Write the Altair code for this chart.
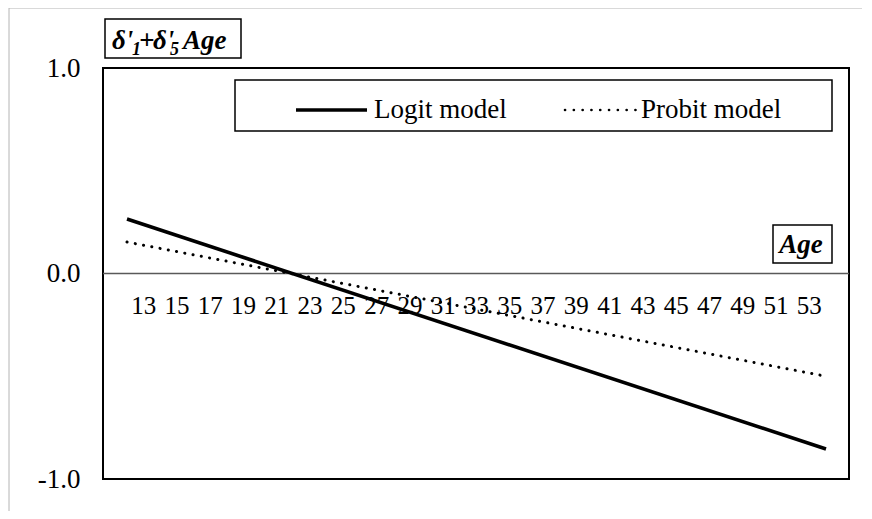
import altair as alt
import pandas as pd

# Data
ages = [12, 54]
logit = [0.265, -0.854]
probit = [0.153, -0.500]
tick_ages = [13, 15, 17, 19, 21, 23, 25, 27, 29, 31, 33, 35, 37, 39, 41, 43, 45, 47, 49, 51, 53]
y_ticks = [-1.0, 0.0, 1.0]

FONT = "Liberation Serif"
W, H = 746, 411

df_logit = pd.DataFrame({"age": ages, "value": logit})
df_probit = pd.DataFrame({"age": ages, "value": probit})
df_ticks = pd.DataFrame({"age": tick_ages, "zero": [0.0] * len(tick_ages), "label": [str(a) for a in tick_ages]})
df_zero = pd.DataFrame({"zero": [0.0]})
one = pd.DataFrame({"a": [0]})

xscale = alt.Scale(domain=[10.558, 55.382], nice=False, zero=False)
yscale = alt.Scale(domain=[-1, 1], nice=False)

x_enc = alt.X("age:Q", scale=xscale, axis=None)
yaxis = alt.Axis(values=y_ticks, ticks=False, domain=False, grid=False,
                 labelFont=FONT, labelFontSize=27, labelColor="black", labelPadding=23,
                 labelExpr="datum.value < 0 ? '-' + format(-datum.value, '.1f') : format(datum.value, '.1f')")

line_logit = alt.Chart(df_logit).mark_line(color="black", strokeWidth=3.6).encode(
    x=x_enc, y=alt.Y("value:Q", scale=yscale, axis=yaxis, title=None))
line_probit = alt.Chart(df_probit).mark_line(color="black", strokeWidth=3, strokeDash=[0.1, 8.3], strokeCap="round").encode(
    x=x_enc, y=alt.Y("value:Q", scale=yscale, axis=yaxis, title=None))

zero_rule = alt.Chart(df_zero).mark_rule(color="#595959", strokeWidth=1.5).encode(
    y=alt.Y("zero:Q", scale=yscale), x=alt.value(0), x2=alt.value(W))

xlabels = alt.Chart(df_ticks).mark_text(font=FONT, fontSize=25, color="black", dy=40.5, baseline="alphabetic").encode(
    x=x_enc, y=alt.Y("zero:Q", scale=yscale), text="label:N")

# outer gray border (left and top)
border_v = alt.Chart(one).mark_rule(color="#b4b4b4", strokeWidth=1).encode(
    x=alt.value(-94), y=alt.value(-60), y2=alt.value(H + 40))
border_h = alt.Chart(one).mark_rule(color="#b4b4b4", strokeWidth=1).encode(
    y=alt.value(-60), x=alt.value(-94), x2=alt.value(W + 13))

# Title box
title_box = alt.Chart(one).mark_rect(fill="white", stroke="black", strokeWidth=1.5).encode(
    x=alt.value(2), x2=alt.value(138), y=alt.value(-49), y2=alt.value(-10))

def txt(s, x, y, size):
    return alt.Chart(one).mark_text(text=s, font=FONT, fontSize=size, fontWeight="bold", fontStyle="italic",
                                    align="left", baseline="alphabetic", color="black").encode(
        x=alt.value(x), y=alt.value(y))

title_parts = [
    txt("δ'", 9, -19, 27),
    txt("1", 29, -13, 18),
    txt("+", 36, -19, 27),
    txt("δ'", 50, -19, 27),
    txt("5", 67, -13, 18),
    txt("Age", 80, -19, 27),
]

# Legend
legend_box = alt.Chart(one).mark_rect(fill="white", stroke="black", strokeWidth=1.5).encode(
    x=alt.value(132), x2=alt.value(729), y=alt.value(12), y2=alt.value(63))
leg_solid = alt.Chart(one).mark_rule(color="black", strokeWidth=3.6).encode(
    x=alt.value(193), x2=alt.value(264), y=alt.value(42))
leg_dot = alt.Chart(one).mark_rule(color="black", strokeWidth=2.6, strokeDash=[0.1, 8.7], strokeCap="round").encode(
    x=alt.value(462), x2=alt.value(533), y=alt.value(42))
leg_t1 = alt.Chart(one).mark_text(text="Logit model", font=FONT, fontSize=27, align="left", baseline="alphabetic",
                                  color="black").encode(x=alt.value(271), y=alt.value(50))
leg_t2 = alt.Chart(one).mark_text(text="Probit model", font=FONT, fontSize=27, align="left", baseline="alphabetic",
                                  color="black").encode(x=alt.value(538), y=alt.value(50))

# Age box
age_box = alt.Chart(one).mark_rect(fill="white", stroke="black", strokeWidth=1.5).encode(
    x=alt.value(670), x2=alt.value(729), y=alt.value(157), y2=alt.value(195))
age_txt = alt.Chart(one).mark_text(text="Age", font=FONT, fontSize=27, fontWeight="bold", fontStyle="italic",
                                   align="center", baseline="alphabetic", color="black").encode(
    x=alt.value(698), y=alt.value(185))

chart = alt.layer(
    zero_rule, xlabels, line_probit, line_logit,
    legend_box, leg_solid, leg_dot, leg_t1, leg_t2,
    age_box, age_txt, title_box, *title_parts, border_v, border_h,
).properties(
    width=W, height=H,
    autosize=alt.AutoSizeParams(type="none"),
    padding={"left": 95, "top": 60, "right": 15, "bottom": 32},
    background="white",
).configure_view(stroke="black", strokeWidth=2)

chart.save("out.html", embed_options={"renderer": "svg", "actions": False})
